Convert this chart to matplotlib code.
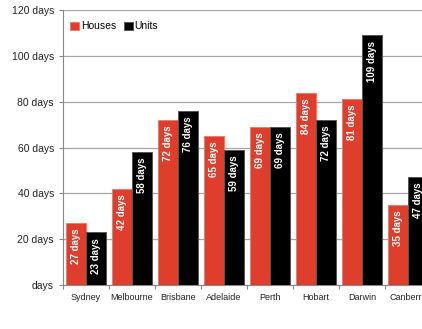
import numpy as np
import matplotlib
matplotlib.use("Agg")
import matplotlib.pyplot as plt
from matplotlib.ticker import FuncFormatter, FixedLocator

cities = ["Sydney", "Melbourne", "Brisbane", "Adelaide", "Perth", "Hobart", "Darwin", "Canberra"]
houses = [27, 42, 72, 65, 69, 84, 81, 35]
units = [23, 58, 76, 59, 69, 72, 109, 47]

red = "#E03E2D"
plt.rcParams['font.family'] = ['Liberation Sans', 'DejaVu Sans']

fig = plt.figure(figsize=(4.22, 3.29), dpi=100)
# axes run past the right edge, as in the original crop
ax = fig.add_axes([63 / 422, 44 / 329, 368 / 422, 275 / 329])

x = np.arange(len(cities))
w = 0.43
b1 = ax.bar(x - w / 2, houses, w, color=red, edgecolor="#F27A6C", linewidth=0.7, label="Houses", zorder=3)
b2 = ax.bar(x + w / 2, units, w, color="black", edgecolor="#555555", linewidth=0.7, label="Units", zorder=3)

for bars, vals in [(b1, houses), (b2, units)]:
    for rect, v in zip(bars, vals):
        ax.annotate(f"{v} days", (rect.get_x() + rect.get_width() / 2, v),
                    xytext=(0, -4), textcoords="offset points",
                    ha="center", va="top", rotation=90, color="white",
                    fontsize=7, fontweight="bold", zorder=4)

ax.set_xlim(-0.5, len(cities) - 0.5)
ax.set_ylim(0, 120)
ax.set_yticks(np.arange(0, 121, 20))
ax.yaxis.set_major_formatter(FuncFormatter(lambda v, p: f"{int(v)} days" if v else "days"))
ax.tick_params(axis="y", labelsize=7.5, length=3, color="#888888", labelcolor="#222222")

ax.xaxis.set_major_locator(FixedLocator(np.arange(len(cities) + 1) - 0.5))
ax.xaxis.set_major_formatter(FuncFormatter(lambda v, p: ""))
ax.xaxis.set_minor_locator(FixedLocator(x))
ax.set_xticklabels(cities, minor=True)
ax.tick_params(axis="x", which="major", length=3, color="#888888")
ax.tick_params(axis="x", which="minor", length=0, labelsize=6.5, labelcolor="#222222", pad=6)

ax.grid(axis="y", color="#A6A6A6", linewidth=0.9, zorder=0)
for s in ["top", "right"]:
    ax.spines[s].set_visible(False)
for s in ["left", "bottom"]:
    ax.spines[s].set_color("#888888")

ax.legend(loc="upper left", ncol=2, frameon=False, fontsize=7.5, handlelength=0.8,
          handleheight=0.8, handletextpad=0.2, columnspacing=0.8,
          bbox_to_anchor=(0.0, 0.985), borderaxespad=0.3)

fig.savefig("out.png", dpi=100)
